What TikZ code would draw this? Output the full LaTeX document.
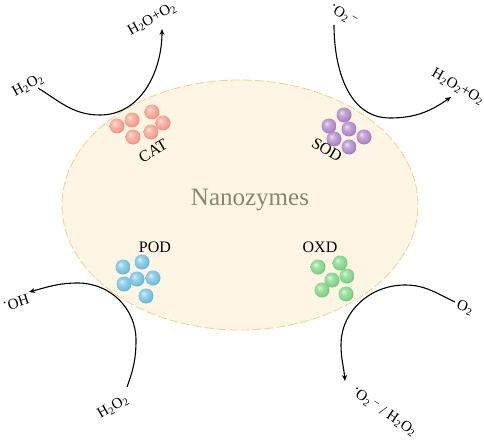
\documentclass[tikz,border=0pt]{standalone}
\usepackage{fontspec}
\setmainfont{Liberation Serif}
\usetikzlibrary{arrows.meta,shapes.geometric}
\definecolor{catc}{HTML}{F7A291}
\definecolor{sodc}{HTML}{B48ACB}
\definecolor{podc}{HTML}{78C3E2}
\definecolor{oxdc}{HTML}{84D68C}
\definecolor{ellfill}{HTML}{FEF5E5}
\definecolor{elldraw}{HTML}{F4D08C}
\definecolor{nanoc}{HTML}{8A8473}
\colorlet{ballc}{catc}
\pgfdeclareradialshading[ballc]{softball}{\pgfqpoint{-9bp}{9bp}}{%
  color(0bp)=(ballc!25!white); color(10bp)=(ballc!75!white);
  color(22bp)=(ballc); color(26bp)=(ballc!92!black); color(50bp)=(ballc!92!black)}
\newcommand{\chs}[1]{\textsubscript{#1}}
\newcommand{\rad}{\raisebox{0.45ex}{·}}
\newcommand{\negc}{\,\textsuperscript{\textendash}}
\tikzset{
  chem/.style={font=\fontsize{15}{15}\selectfont, inner sep=1pt},
  enz/.style={font=\fontsize{16}{16}\selectfont, inner sep=1pt},
  react/.style={line width=1.1pt, -{Stealth[length=6pt,width=5pt]}},
  ball/.style={shading=softball},
}
\begin{document}
\begin{tikzpicture}[x=1pt,y=1pt]
\useasboundingbox (0,0) rectangle (484,440);
% body
\node[ellipse, draw=elldraw, fill=ellfill, dash pattern=on 9pt off 3pt, line width=0.8pt,
  minimum width=356pt, minimum height=250pt, inner sep=0pt] (body) at (240,235) {};
\node[font=\fontsize{25}{25}\selectfont, text=nanoc] (nano) at (250,240) {Nanozymes};
% CAT balls
\colorlet{ballc}{catc}
\foreach \x/\y in {117/314,132/320,152/328,163/317,133/303,151/308}
  \shade[ball] (\x,\y) circle (7.5);
% SOD balls
\colorlet{ballc}{sodc}
\foreach \x/\y in {344/325,329/314,349/311,364/303,334/301,349/293}
  \shade[ball] (\x,\y) circle (7.5);
% POD balls
\colorlet{ballc}{podc}
\foreach \x/\y in {123/173,142/178,124/156,137/161,153/162,146/144}
  \shade[ball] (\x,\y) circle (7.5);
% OXD balls
\colorlet{ballc}{oxdc}
\foreach \x/\y in {318/173,340/177,347/164,332/160,322/150,346/146}
  \shade[ball] (\x,\y) circle (7.5);
% enzyme labels
\node[enz, rotate=30] (cat) at (153,289) {CAT};
\node[enz, rotate=-30] (sod) at (327,290) {SOD};
\node[enz] (pod) at (155,193) {POD};
\node[enz] (oxd) at (320,193) {OXD};
% chemical labels
\node[chem, rotate=29] (catin) at (28,355) {H\chs{2}O\chs{2}};
\node[chem, rotate=29] (catout) at (152,421) {H\chs{2}O+O\chs{2}};
\node[chem, rotate=-30] (sodin) at (343,425) {\rad O\chs{2}\negc};
\node[chem, rotate=-30] (sodout) at (458,353) {H\chs{2}O\chs{2}+O\chs{2}};
\node[chem, rotate=18] (podout) at (16,137) {\rad OH};
\node[chem, rotate=30] (podin) at (113,33) {H\chs{2}O\chs{2}};
\node[chem, rotate=-20] (oxdin) at (465,132) {O\chs{2}};
\node[chem, rotate=-34] (oxdout) at (384,28) {\rad O\chs{2}\negc\;/\;H\chs{2}O\chs{2}};
% curve end points
\coordinate (c1s) at (38,352);
\coordinate (c1m) at (100,325);
\coordinate (c1e) at (162,411);
\coordinate (c2s) at (334,415);
\coordinate (c2m) at (390,322);
\coordinate (c2e) at (451,343);
\coordinate (c3s) at (127,53);
\coordinate (c3m) at (136,100);
\coordinate (c3t) at (78,157);
\coordinate (c3e) at (29,148);
\coordinate (c4s) at (455,138);
\coordinate (c4t) at (405,155);
\coordinate (c4m) at (341,95);
\coordinate (c4e) at (345,59);
% reactions
\draw[react] (c1s) to[out=-32,in=180] (c1m) to[out=0,in=-90] (c1e);
\draw[react] (c2s) to[out=-90,in=180] (c2m) to[out=0,in=215] (c2e);
\draw[react] (c3s) to[out=70,in=-90] (c3m) to[out=90,in=0] (c3t) to[out=180,in=15] (c3e);
\draw[react] (c4s) to[out=155,in=0] (c4t) to[out=180,in=90] (c4m) to[out=-90,in=95] (c4e);
\end{tikzpicture}
\end{document}
